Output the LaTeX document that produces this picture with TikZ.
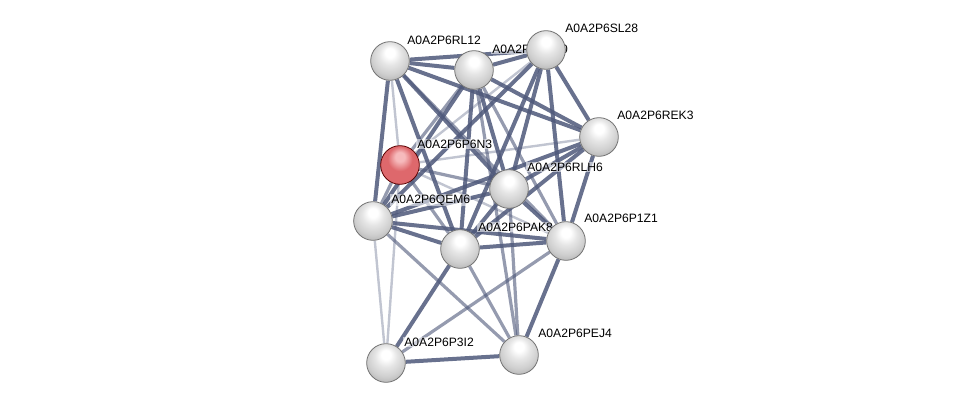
\documentclass[tikz,border=0pt]{standalone}
\usepackage{fontspec}
\setmainfont{Liberation Sans}
\usepackage{xcolor}
\usepackage{tikz}
\usetikzlibrary{shadings}
\definecolor{edgeblue}{RGB}{78,88,122}
\definecolor{redtop}{RGB}{246,186,188}
\definecolor{redmid}{RGB}{222,104,108}
\definecolor{redrim}{RGB}{178,72,78}
\pgfdeclareradialshading{stringball}{\pgfqpoint{0bp}{12bp}}{%
    color(0bp)=(white); color(6bp)=(white); color(14bp)=(black!10);
    color(24bp)=(black!19); color(32bp)=(black!30); color(40bp)=(black!42);
    color(50bp)=(black!50)}
\pgfdeclareradialshading{queryball}{\pgfqpoint{0bp}{12bp}}{%
    color(0bp)=(redtop); color(6bp)=(redtop); color(16bp)=(redmid);
    color(28bp)=(redmid); color(38bp)=(redrim); color(50bp)=(redrim)}
\pgfdeclarelayer{edges}
\pgfdeclarelayer{labels}
\pgfsetlayers{edges,labels,main}
\tikzset{
    protein/.style={
        circle, minimum size=29pt, inner sep=0pt,
        shading=stringball, draw=black!55, line width=0.6pt
    },
    query/.style={
        protein, shading=queryball, draw=red!35!black
    },
    plabel/.style={
        anchor=west, inner sep=0.8pt,
        fill=white, fill opacity=0.55, text opacity=1,
        font=\fontsize{9.1}{11}\selectfont, text=black
    },
    strong/.style={draw=edgeblue, line width=3pt, opacity=0.85},
    medium/.style={draw=edgeblue, line width=2.4pt, opacity=0.6},
    weak/.style={draw=edgeblue, line width=1.8pt, opacity=0.35}
}

\begin{document}
\begin{tikzpicture}[x=0.75pt,y=-0.75pt]
\useasboundingbox (0,0) rectangle (976,409);

% ---- Proteins ----
\node[protein] (rl12) at (390, 61)  {};
\node[protein] (rkt0) at (474, 70)  {};
\node[protein] (sl28) at (546, 50)  {};
\node[protein] (rek3) at (599, 137) {};
\node[query]   (p6n3) at (400, 165) {};
\node[protein] (rlh6) at (509, 189) {};
\node[protein] (qem6) at (373, 221) {};
\node[protein] (pak8) at (460, 249) {};
\node[protein] (p1z1) at (566, 241) {};
\node[protein] (pej4) at (519, 355) {};
\node[protein] (p3i2) at (386, 363) {};

% ---- Labels (under the balls) ----
\begin{pgfonlayer}{labels}
\node[plabel] (l_rl12) at (406, 40)  {A0A2P6RL12};
\node[plabel] (l_rkt0) at (491, 49)  {A0A2P6RKT0};
\node[plabel] (l_sl28) at (564, 28)  {A0A2P6SL28};
\node[plabel] (l_rek3) at (616, 115) {A0A2P6REK3};
\node[plabel] (l_p6n3) at (416, 144) {A0A2P6P6N3};
\node[plabel] (l_rlh6) at (526, 167) {A0A2P6RLH6};
\node[plabel] (l_qem6) at (390, 200) {A0A2P6QEM6};
\node[plabel] (l_pak8) at (477, 227) {A0A2P6PAK8};
\node[plabel] (l_p1z1) at (583, 218) {A0A2P6P1Z1};
\node[plabel] (l_pej4) at (537, 333) {A0A2P6PEJ4};
\node[plabel] (l_p3i2) at (403, 342) {A0A2P6P3I2};
\end{pgfonlayer}

% ---- Interactions ----
\begin{pgfonlayer}{edges}
% from rl12
\draw[strong] (rl12) -- (rkt0);
\draw[strong] (rl12) -- (sl28);
\draw[strong] (rl12) -- (rek3);
\draw[strong] (rl12) -- (qem6);
\draw[weak]   (rl12) -- (p6n3);
\draw[strong] (rl12) -- (pak8);
\draw[strong] (rl12) -- (rlh6);
\draw[medium] (rl12) -- (p1z1);
% from rkt0
\draw[strong] (rkt0) -- (sl28);
\draw[strong] (rkt0) -- (rek3);
\draw[medium] (rkt0) -- (p6n3);
\draw[strong] (rkt0) -- (qem6);
\draw[strong] (rkt0) -- (pak8);
\draw[strong] (rkt0) -- (rlh6);
\draw[medium] (rkt0) -- (p1z1);
\draw[medium] (rkt0) -- (pej4);
% from sl28
\draw[strong] (sl28) -- (rek3);
\draw[weak]   (sl28) -- (p6n3);
\draw[strong] (sl28) -- (qem6);
\draw[strong] (sl28) -- (pak8);
\draw[strong] (sl28) -- (rlh6);
\draw[strong] (sl28) -- (p1z1);
% from rek3
\draw[weak]   (rek3) -- (p6n3);
\draw[strong] (rek3) -- (qem6);
\draw[strong] (rek3) -- (pak8);
\draw[strong] (rek3) -- (rlh6);
\draw[strong] (rek3) -- (p1z1);
% from p6n3
\draw[medium] (p6n3) -- (qem6);
\draw[medium] (p6n3) -- (rlh6);
\draw[medium] (p6n3) -- (pak8);
\draw[weak]   (p6n3) -- (p1z1);
\draw[weak]   (p6n3) -- (p3i2);
% from qem6
\draw[strong] (qem6) -- (pak8);
\draw[strong] (qem6) -- (rlh6);
\draw[strong] (qem6) -- (p1z1);
\draw[medium] (qem6) -- (pej4);
\draw[weak]   (qem6) -- (p3i2);
% lower part
\draw[strong] (rlh6) -- (pak8);
\draw[strong] (rlh6) -- (p1z1);
\draw[medium] (rlh6) -- (pej4);
\draw[strong] (pak8) -- (p1z1);
\draw[medium] (pak8) -- (pej4);
\draw[strong] (pak8) -- (p3i2);
\draw[strong] (p1z1) -- (pej4);
\draw[medium] (p1z1) -- (p3i2);
\draw[strong] (pej4) -- (p3i2);
\end{pgfonlayer}

\end{tikzpicture}
\end{document}
